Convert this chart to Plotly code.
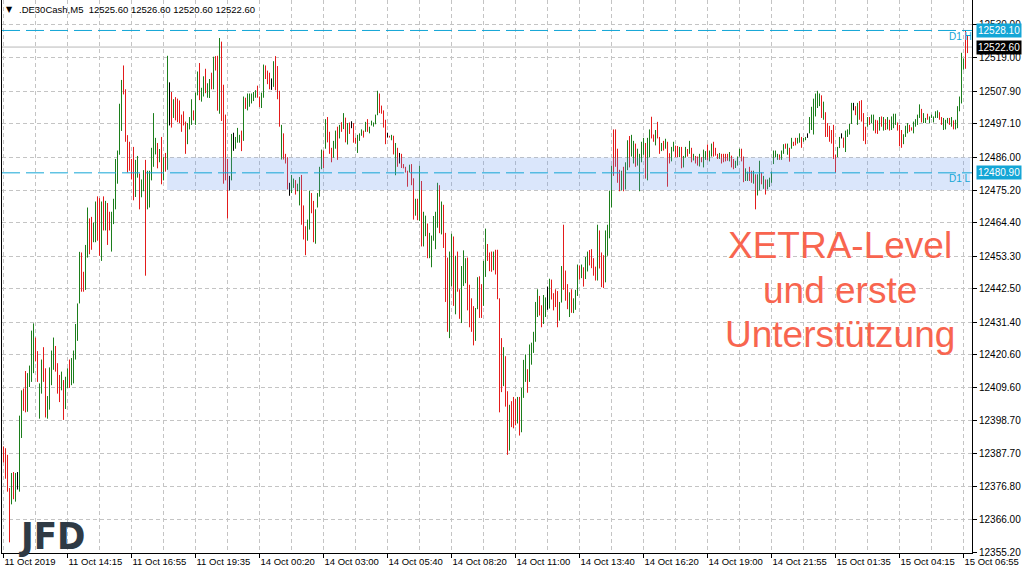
import plotly.graph_objects as go

# ---------------- data ----------------
HIGH = [
12390.2,12389.6,12387.4,12376.4,12381.4,12381.7,12381.4,12381.7,12400.4,12408.8,
12409.4,12415.2,12414.5,12417.0,12428.6,12431.0,12426.3,12421.8,12411.1,12419.0,
12423.1,12416.1,12406.9,12416.4,12422.0,12426.3,12423.5,12417.8,12413.9,12415.0,
12412.2,12413.3,12416.1,12419.0,12419.5,12422.0,12430.8,12437.6,12454.7,12454.5,
12448.1,12457.0,12469.4,12465.8,12466.3,12464.4,12471.4,12473.1,12472.5,12471.4,
12473.1,12471.6,12470.9,12468.0,12468.0,12472.3,12485.5,12488.3,12503.8,12511.7,
12516.5,12508.6,12493.4,12491.2,12485.5,12489.5,12485.2,12486.5,12480.7,12478.7,
12481.8,12485.2,12481.6,12481.6,12489.2,12500.7,12492.5,12490.8,12488.8,12492.8,
12486.1,12487.5,12519.7,12510.9,12507.7,12505.3,12506.0,12505.5,12504.9,12500.2,
12501.3,12497.9,12497.4,12499.4,12505.3,12501.6,12507.5,12514.5,12517.3,12509.1,
12512.9,12515.4,12510.6,12512.0,12514.1,12519.4,12519.6,12519.7,12525.6,12524.4,
12510.1,12500.2,12485.5,12479.9,12493.8,12494.2,12492.8,12495.8,12493.5,12494.9,
12506.2,12505.8,12507.2,12507.2,12507.2,12507.7,12508.3,12509.8,12506.2,12507.5,
12516.8,12516.5,12514.8,12514.1,12512.2,12517.9,12519.6,12516.3,12508.1,12496.8,
12494.0,12487.2,12486.1,12477.6,12480.2,12479.0,12478.5,12477.3,12479.5,12480.2,
12470.1,12463.2,12465.4,12475.0,12474.2,12471.6,12468.8,12474.2,12482.9,12488.6,
12488.3,12498.7,12499.4,12494.5,12489.2,12491.5,12494.9,12496.2,12496.8,12497.7,
12500.7,12499.2,12497.4,12497.6,12498.0,12497.4,12492.6,12493.5,12494.0,12495.3,
12494.9,12497.8,12498.7,12496.2,12498.2,12497.6,12500.2,12508.1,12507.2,12503.2,
12501.6,12498.5,12494.2,12493.2,12493.5,12493.2,12490.8,12489.2,12487.5,12487.2,
12483.8,12482.9,12481.6,12483.6,12483.8,12479.1,12472.3,12472.3,12483.3,12478.2,
12468.0,12466.7,12464.1,12461.0,12460.1,12466.6,12468.0,12477.6,12476.8,12471.4,
12470.3,12461.0,12452.8,12454.8,12460.7,12459.8,12453.4,12454.8,12442.3,12450.0,
12455.2,12452.6,12452.8,12443.8,12439.3,12436.7,12436.1,12446.3,12446.6,12444.0,
12451.7,12462.4,12457.3,12454.5,12454.8,12454.8,12455.4,12455.4,12439.3,12426.1,
12423.1,12420.1,12408.5,12404.0,12405.2,12406.6,12406.0,12406.6,12406.6,12409.6,
12418.9,12420.7,12415.8,12424.0,12424.6,12428.2,12438.1,12442.3,12440.1,12437.0,
12440.4,12439.6,12443.2,12445.8,12445.5,12441.0,12442.3,12441.7,12438.1,12450.0,
12463.7,12448.5,12444.0,12441.3,12442.3,12439.3,12442.1,12450.5,12450.2,12450.5,
12449.6,12453.0,12454.8,12455.3,12455.6,12452.6,12449.8,12463.7,12461.8,12454.5,
12453.6,12461.8,12463.7,12475.0,12483.3,12495.3,12495.3,12488.9,12481.9,12481.6,
12482.9,12484.4,12491.7,12493.1,12493.5,12491.5,12490.6,12488.9,12487.2,12491.2,
12492.5,12490.8,12492.5,12495.3,12499.5,12493.6,12495.1,12497.8,12492.8,12490.8,
12491.5,12492.2,12491.2,12487.4,12489.5,12491.2,12489.9,12489.8,12489.5,12489.5,
12486.5,12489.5,12488.8,12491.5,12489.2,12487.2,12486.5,12486.3,12487.2,12486.1,
12488.6,12488.1,12490.3,12488.3,12490.6,12491.2,12489.2,12487.2,12487.5,12487.2,
12487.2,12487.2,12487.2,12487.8,12486.6,12485.5,12484.9,12486.3,12488.9,12488.9,
12486.3,12482.4,12481.3,12482.9,12481.6,12481.6,12480.4,12480.4,12484.9,12481.0,
12479.9,12478.7,12478.7,12479.3,12481.3,12488.3,12488.3,12487.2,12487.0,12488.3,
12490.4,12490.6,12490.6,12489.2,12492.5,12491.2,12492.5,12492.5,12494.0,12492.8,
12492.5,12492.8,12494.0,12499.4,12502.8,12505.5,12507.2,12508.1,12507.2,12506.6,
12504.5,12501.0,12497.4,12496.5,12495.1,12496.8,12486.9,12489.5,12492.8,12494.0,
12492.6,12494.9,12495.3,12497.1,12504.1,12504.1,12503.0,12504.1,12504.7,12505.0,
12500.7,12496.2,12499.4,12499.4,12500.2,12500.2,12498.5,12498.3,12499.4,12499.6,
12499.4,12498.7,12499.4,12498.5,12499.6,12500.5,12500.5,12497.6,12496.8,12495.1,
12493.7,12496.5,12497.4,12496.8,12496.0,12497.9,12498.7,12500.2,12503.6,12502.1,
12500.7,12499.1,12500.5,12499.6,12500.2,12499.6,12501.3,12501.6,12501.0,12499.4,
12499.1,12498.5,12499.1,12499.1,12499.4,12498.3,12498.5,12503.0,12506.2,12520.7,
12518.8,12528.1,12526.6,
]

LOW = [
12384.9,12379.5,12375.2,12358.4,12371.0,12372.7,12371.9,12375.9,12375.2,12393.0,
12402.0,12401.5,12401.7,12409.9,12411.6,12414.5,12418.4,12411.6,12399.4,12407.7,
12411.6,12399.8,12399.4,12402.4,12410.5,12415.6,12415.0,12407.7,12404.9,12408.8,
12399.0,12402.6,12409.6,12409.6,12410.5,12411.1,12419.0,12425.2,12437.6,12441.5,
12441.5,12442.1,12452.8,12453.9,12455.4,12457.9,12457.9,12458.4,12453.4,12451.7,
12461.8,12461.8,12457.0,12461.8,12454.8,12463.9,12468.8,12477.3,12486.9,12494.8,
12506.9,12491.2,12481.0,12481.6,12478.7,12471.8,12472.9,12479.3,12468.8,12472.8,
12474.8,12446.8,12468.8,12469.4,12478.4,12482.9,12487.0,12482.4,12484.4,12477.1,
12478.4,12481.3,12481.9,12496.6,12495.9,12499.1,12498.3,12497.7,12497.4,12494.5,
12496.6,12487.2,12490.4,12495.3,12496.8,12498.3,12496.8,12506.6,12505.0,12504.5,
12506.2,12507.3,12505.8,12505.7,12508.6,12508.6,12514.8,12501.5,12500.5,12498.1,
12477.3,12478.4,12465.8,12475.1,12478.4,12488.2,12488.9,12490.9,12490.9,12488.1,
12491.5,12502.1,12501.6,12502.8,12503.9,12504.7,12505.8,12505.8,12502.7,12502.4,
12505.8,12512.0,12510.3,12508.6,12508.4,12509.4,12508.3,12505.3,12496.2,12485.3,
12485.3,12484.0,12475.4,12473.3,12474.2,12475.9,12473.7,12474.8,12470.1,12463.7,
12458.8,12453.6,12458.4,12462.1,12467.5,12457.9,12457.4,12469.4,12473.0,12482.1,
12482.5,12488.9,12491.0,12487.2,12484.4,12485.9,12488.9,12485.2,12492.3,12494.5,
12495.4,12491.0,12490.3,12493.8,12495.7,12490.9,12490.6,12487.5,12491.5,12493.2,
12492.6,12494.5,12494.5,12494.0,12496.6,12496.2,12497.0,12500.0,12500.7,12500.5,
12495.9,12490.4,12492.6,12492.6,12491.7,12487.0,12480.1,12482.9,12484.0,12482.5,
12482.4,12481.0,12476.3,12481.0,12476.8,12465.4,12466.7,12465.2,12465.0,12456.5,
12456.5,12459.9,12452.6,12452.6,12449.6,12458.4,12455.6,12462.7,12460.9,12460.5,
12456.0,12438.1,12428.2,12426.1,12443.2,12436.8,12434.0,12441.5,12432.5,12431.1,
12443.4,12444.3,12435.3,12429.7,12428.2,12423.7,12425.2,12435.7,12432.8,12432.8,
12436.8,12446.4,12451.7,12448.3,12448.1,12448.6,12447.2,12439.0,12401.5,12408.2,
12410.2,12403.4,12387.4,12388.8,12396.6,12396.2,12397.2,12397.8,12393.8,12394.9,
12406.3,12411.6,12408.0,12411.6,12417.3,12421.2,12424.9,12433.1,12433.6,12429.7,
12430.8,12433.1,12435.5,12435.9,12438.9,12435.3,12436.4,12429.7,12431.9,12437.9,
12442.1,12438.5,12435.7,12433.1,12434.5,12434.4,12435.5,12440.1,12445.5,12446.0,
12443.2,12445.7,12448.2,12450.2,12449.3,12446.8,12445.2,12445.2,12449.2,12443.0,
12442.7,12444.6,12453.4,12459.2,12469.4,12479.9,12482.9,12477.6,12474.8,12475.1,
12474.8,12475.4,12481.8,12482.7,12486.3,12484.0,12482.9,12483.3,12474.8,12484.4,
12486.9,12479.0,12478.4,12486.1,12492.3,12491.2,12490.0,12492.3,12487.2,12488.1,
12488.3,12488.9,12476.3,12484.0,12484.7,12488.0,12486.1,12486.1,12486.1,12482.4,
12482.7,12485.9,12486.3,12487.2,12484.4,12485.0,12484.0,12483.3,12483.0,12484.4,
12482.7,12485.2,12485.0,12484.7,12486.3,12486.3,12486.6,12485.5,12485.5,12484.0,
12484.4,12484.7,12484.9,12484.7,12482.7,12482.1,12482.5,12483.3,12486.3,12484.7,
12477.8,12478.2,12478.2,12478.2,12477.6,12477.3,12468.8,12473.4,12475.1,12477.1,
12475.6,12473.7,12475.4,12476.2,12477.6,12483.8,12486.1,12485.2,12485.2,12485.2,
12487.2,12488.9,12486.9,12484.6,12488.9,12489.8,12490.0,12490.6,12490.9,12489.2,
12491.2,12491.7,12492.5,12494.0,12495.1,12493.6,12499.6,12502.4,12503.0,12499.1,
12498.5,12492.8,12492.8,12491.2,12490.6,12485.5,12480.9,12486.1,12489.1,12492.3,
12489.2,12487.8,12492.8,12493.6,12497.1,12501.6,12500.0,12496.8,12498.5,12497.9,
12491.5,12490.4,12496.2,12496.8,12497.4,12494.9,12494.0,12493.8,12494.9,12496.2,
12494.9,12495.1,12495.3,12494.9,12495.1,12495.7,12496.8,12494.9,12489.7,12489.2,
12490.4,12492.8,12494.0,12494.5,12494.9,12494.0,12496.2,12496.8,12499.1,12497.6,
12497.4,12497.4,12498.5,12497.4,12499.1,12497.6,12499.1,12499.1,12498.5,12496.8,
12495.1,12495.3,12497.4,12496.8,12496.2,12495.3,12495.3,12495.7,12501.3,12503.9,
12515.1,12515.4,12520.6,
]

# bar direction per bar: u = up (green), d = down (red), n = unchanged (black)
DIR_ROWS = [
    "ddddudunuu", "dduuuudduu", "dduuuudddu", "duuduuuuud", "duudduuddu",
    "dudduuuuuu", "dddddduudu", "uduuuuudud", "udundudddd", "dduuuduudu",
    "uduududdud", "dddnunuuud", "uduuuuuddu", "udddnudddu", "dddnuuduud",
    "dduudduuuu", "duddduudud", "ududndduuu", "duduuuuudd", "ddndududnd",
    "ddduddudud", "uuduuuuudu", "ddduududdu", "uudddduudd", "uudddudddd",
    "uddudddudu", "uuduuuuudd", "uunudddduu", "ddduduuudu", "duuddddudd",
    "duuuuddddu", "duuduuduuu", "uduudduddu", "dudduuddud", "uudududdud",
    "uuduudddud", "dddudduuud", "duudduduud", "uduuuuuudu", "udududduud",
    "uunuuuuuud", "udddddduun", "duuuundudd", "dduduuddud", "ududuuuddd",
    "uuudduuuud", "uuduuuuudd", "uuududuuuu", "udd",
]
DIRS = "".join(DIR_ROWS)

X_TICKS = list(range(0, 481, 32))
X_LABELS = ["11 Oct 2019", "11 Oct 14:15", "11 Oct 16:55", "11 Oct 19:35",
            "14 Oct 00:20", "14 Oct 03:00", "14 Oct 05:40", "14 Oct 08:20",
            "14 Oct 11:00", "14 Oct 13:40", "14 Oct 16:20", "14 Oct 19:00",
            "14 Oct 21:55", "15 Oct 01:35", "15 Oct 04:15", "15 Oct 06:55"]
Y_TICKS = [12355.20, 12366.00, 12376.80, 12387.70, 12398.70, 12409.60, 12420.60,
           12431.40, 12442.50, 12453.30, 12464.40, 12475.20, 12486.00, 12497.10,
           12507.90, 12519.00, 12530.00]

D1_HIGH = 12528.10
D1_LOW = 12480.90
BID = 12522.60
ZONE = (12475.2, 12486.0)
HEADER = ".DE30Cash,M5  12525.60 12526.60 12520.60 12522.60"

# ---------------- figure ----------------
GREEN = "#1C7E1C"
RED = "#E31B1B"
CYAN = "#14A6D6"
FONT = "Liberation Sans, Arial, sans-serif"

n = len(HIGH)
X = list(range(n))

fig = go.Figure()
for code, col in (("u", GREEN), ("d", RED), ("n", "#000000")):
    xs, ys = [], []
    for i in X:
        if DIRS[i] == code:
            xs += [X[i], X[i], None]
            ys += [LOW[i], HIGH[i], None]
    fig.add_trace(go.Scatter(
        x=xs, y=ys, mode="lines",
        line=dict(color=col, width=1, simplify=False),
        connectgaps=False, showlegend=False, hoverinfo="skip",
    ))

W, H = 1024, 576
ML, MR, MT, MB = 2, 52, 0, 23
PW, PH = W - ML - MR, H - MT - MB


def px(xp):
    return (xp - ML) / PW


def py(yp):
    return (MT + PH - yp) / PH


grid = dict(showgrid=True, gridcolor="#C4C4C4", gridwidth=1, griddash="4px,3px")

fig.update_layout(
    width=W, height=H,
    margin=dict(l=ML, r=MR, t=MT, b=MB, pad=0),
    paper_bgcolor="white", plot_bgcolor="white",
    showlegend=False,
    font=dict(family=FONT, color="black"),
    xaxis=dict(
        range=[-0.75, PW / 2 - 0.75],
        tickmode="array", tickvals=X_TICKS, ticktext=X_LABELS,
        ticklabelposition="outside right",
        ticks="outside", ticklen=4, tickcolor="black",
        tickfont=dict(size=9.5, family=FONT, color="black"),
        showline=True, linecolor="black", linewidth=1,
        zeroline=False,
        minor=dict(tickmode="linear", tick0=0, dtick=16, ticks="", **grid),
        **grid,
    ),
    yaxis=dict(
        side="right",
        range=[12354.87, 12538.2],
        tickmode="array", tickvals=Y_TICKS, ticktext=[f"{v:.2f}" for v in Y_TICKS],
        ticks="outside", ticklen=4, tickcolor="black",
        tickfont=dict(size=10, family=FONT, color="black"),
        showline=True, mirror=True, linecolor="black", linewidth=1,
        zeroline=False,
        **grid,
    ),
)

shapes = [
    dict(type="line", xref="paper", yref="y", x0=0, x1=1, y0=BID, y1=BID,
         line=dict(color="#B8B8B8", width=1), layer="below"),
    dict(type="rect", xref="x", yref="y", x0=81.8, x1=483.3, y0=ZONE[0], y1=ZONE[1],
         fillcolor="rgba(100,149,237,0.24)", line=dict(width=0), layer="above"),
    dict(type="line", xref="paper", yref="y", x0=0, x1=1, y0=D1_HIGH, y1=D1_HIGH,
         line=dict(color=CYAN, width=1, dash="18px,6px"), layer="above"),
    dict(type="line", xref="paper", yref="y", x0=0, x1=1, y0=D1_LOW, y1=D1_LOW,
         line=dict(color=CYAN, width=1, dash="18px,6px"), layer="above"),
]
fig.update_layout(shapes=shapes)

ann = []
# header
ann.append(dict(xref="paper", yref="paper", x=px(4), y=py(10), xanchor="left", yanchor="middle",
                text="▼", showarrow=False, font=dict(size=8, family="DejaVu Sans", color="black")))
ann.append(dict(xref="paper", yref="paper", x=px(17), y=py(10), xanchor="left", yanchor="middle",
                text=HEADER, showarrow=False, font=dict(size=9.5, family=FONT, color="black")))
# level labels
ann.append(dict(xref="paper", yref="paper", x=px(947), y=py(36), xanchor="left", yanchor="middle",
                text="D1 H", showarrow=False, font=dict(size=10, family=FONT, color=CYAN)))
ann.append(dict(xref="paper", yref="paper", x=px(947), y=py(179), xanchor="left", yanchor="middle",
                text="D1 L", showarrow=False, font=dict(size=10, family=FONT, color=CYAN)))
# price boxes on the axis
for val, bg in ((D1_HIGH, CYAN), (BID, "black"), (D1_LOW, CYAN)):
    ann.append(dict(xref="paper", yref="y", x=px(976), y=val, xanchor="left", yanchor="middle",
                    text=f"{val:.2f}", showarrow=False, bgcolor=bg, borderpad=1,
                    font=dict(size=10, family=FONT, color="white")))
# logo
ann.append(dict(xref="paper", yref="paper", x=px(52), y=py(536), xanchor="center", yanchor="middle",
                text="<b>JFD</b>", showarrow=False,
                font=dict(size=38, family="DejaVu Sans Condensed, Liberation Sans Narrow, Liberation Sans",
                          color="#2F3A45")))
# commentary
for txt, yc in (("XETRA-Level", 246), ("und erste", 290), ("Unterstützung", 334)):
    ann.append(dict(xref="paper", yref="paper", x=px(840), y=py(yc), xanchor="center",
                    yanchor="middle", text=txt, showarrow=False,
                    font=dict(size=37, family=FONT, color="#F8654F")))
fig.update_layout(annotations=ann)

fig.write_html("out.html", config={"displayModeBar": False},
               post_script="document.body.style.margin='0';")
